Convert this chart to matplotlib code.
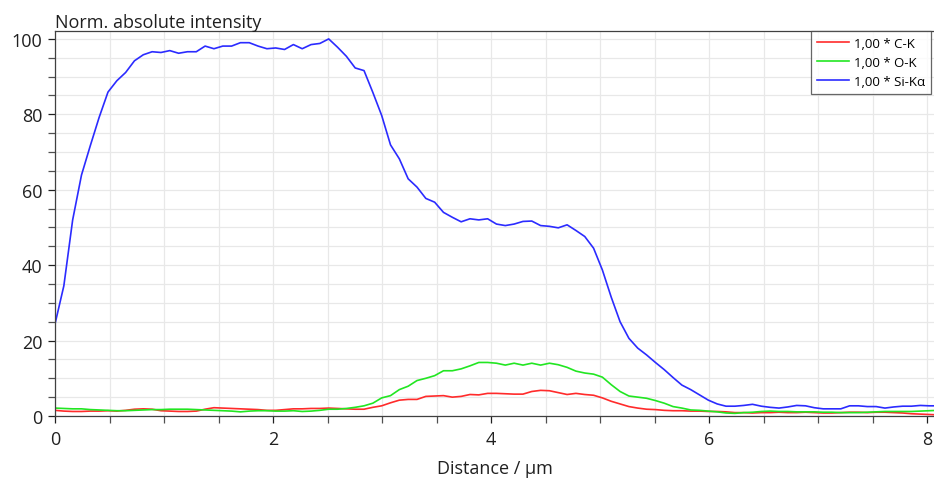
import matplotlib
matplotlib.use("Agg")
import matplotlib.pyplot as plt
from matplotlib.ticker import MultipleLocator
import numpy as np

# Line scan data (step ~0.081 um)
step = 0.081

c_k = [1.5, 1.3, 1.2, 1.2, 1.3, 1.3, 1.4, 1.3, 1.5, 1.8,
       1.9, 1.8, 1.4, 1.3, 1.2, 1.2, 1.3, 1.8, 2.2, 2.1,
       2.0, 1.9, 1.8, 1.7, 1.5, 1.5, 1.7, 1.9, 1.9, 2.0,
       2.0, 2.1, 2.0, 1.9, 1.8, 1.8, 2.3, 2.7, 3.5, 4.2,
       4.4, 4.4, 5.2, 5.3, 5.4, 5.0, 5.2, 5.7, 5.6, 6.0,
       6.0, 5.9, 5.8, 5.8, 6.5, 6.8, 6.7, 6.2, 5.7, 6.0,
       5.7, 5.5, 4.8, 3.9, 3.2, 2.5, 2.1, 1.8, 1.7, 1.5,
       1.4, 1.4, 1.3, 1.3, 1.2, 1.2, 1.1, 0.9, 0.9, 0.8,
       0.9, 0.9, 1.0, 0.9, 0.9, 1.0, 0.9, 0.8, 0.8, 0.9,
       1.0, 1.0, 0.9, 1.0, 1.0, 0.9, 0.8, 0.6, 0.5, 0.4,
       0.3]

o_k = [2.1, 2.0, 1.9, 1.9, 1.7, 1.6, 1.5, 1.4, 1.4, 1.5,
       1.6, 1.7, 1.7, 1.8, 1.8, 1.8, 1.7, 1.6, 1.5, 1.4,
       1.3, 1.1, 1.3, 1.4, 1.4, 1.3, 1.3, 1.4, 1.2, 1.3,
       1.5, 1.8, 1.8, 2.0, 2.3, 2.7, 3.4, 4.8, 5.4, 7.0,
       7.9, 9.4, 10.0, 10.7, 12.0, 12.0, 12.5, 13.3, 14.2, 14.2,
       14.0, 13.5, 14.0, 13.5, 14.0, 13.5, 14.0, 13.6, 12.9, 11.9,
       11.4, 11.1, 10.3, 8.3, 6.5, 5.3, 5.0, 4.7, 4.1, 3.4,
       2.5, 2.1, 1.6, 1.5, 1.3, 1.1, 0.8, 0.7, 0.9, 1.0,
       1.2, 1.3, 1.2, 1.2, 1.1, 1.1, 1.1, 1.0, 1.0, 0.9,
       0.9, 0.9, 1.0, 1.1, 1.2, 1.2, 1.2, 1.2, 1.3, 1.4,
       1.5]

si_ka = [24.4, 34.5, 52.0, 63.9, 71.7, 79.2, 85.9, 88.9, 91.1, 94.2,
         95.8, 96.6, 96.4, 96.9, 96.2, 96.6, 96.6, 98.1, 97.4, 98.1,
         98.1, 99.0, 99.0, 98.1, 97.4, 97.6, 97.2, 98.5, 97.4, 98.5,
         98.8, 100.0, 97.8, 95.4, 92.3, 91.6, 85.8, 79.7, 71.9, 68.2,
         62.9, 60.7, 57.7, 56.7, 54.0, 52.7, 51.5, 52.3, 52.0, 52.3,
         50.9, 50.5, 50.9, 51.6, 51.7, 50.5, 50.3, 49.9, 50.7, 49.2,
         47.6, 44.5, 38.7, 31.5, 25.0, 20.6, 18.0, 16.2, 14.2, 12.3,
         10.2, 8.2, 7.0, 5.6, 4.2, 3.2, 2.6, 2.6, 2.8, 3.1,
         2.6, 2.3, 2.1, 2.4, 2.8, 2.7, 2.2, 1.9, 1.9, 1.9,
         2.7, 2.7, 2.5, 2.5, 2.1, 2.4, 2.6, 2.6, 2.8, 2.7,
         2.7]

labels = ["1,00 * C-K", "1,00 * O-K", "1,00 * Si-K\u03b1"]
colors = ["#ff2b2b", "#22e622", "#2b2bff"]

distance = np.arange(len(si_ka)) * step

plt.rcParams['font.family'] = ['Open Sans', 'DejaVu Sans']

fig = plt.figure(figsize=(9.34, 4.81), dpi=100)
ax = fig.add_axes([55 / 934, 1 - 417 / 481, 1 - 55 / 934, (417 - 32) / 481])

for series, lab, col in zip([c_k, o_k, si_ka], labels, colors):
    ax.plot(distance, series, color=col, lw=1.2, label=lab)

ax.set_xlim(0, 8.064)
ax.set_ylim(0, 102.1)

ax.xaxis.set_major_locator(MultipleLocator(2))
ax.xaxis.set_minor_locator(MultipleLocator(0.5))
ax.yaxis.set_major_locator(MultipleLocator(20))
ax.yaxis.set_minor_locator(MultipleLocator(5))
ax.grid(which='both', color='#e8e8e8', lw=0.9)
ax.set_axisbelow(True)
ax.tick_params(which='both', direction='out', length=5, color='#505050', width=0.9)
ax.tick_params(axis='both', labelsize=13, colors='#202020')
ax.tick_params(axis='x', pad=5)
ax.tick_params(axis='y', pad=4)

for s in ax.spines.values():
    s.set_color('#404040')
    s.set_linewidth(0.9)
ax.spines['right'].set_visible(False)

ax.set_xlabel('Distance / \u00b5m', fontsize=13, color='#202020', labelpad=8)
ax.set_title('Norm. absolute intensity', loc='left', fontsize=13,
             color='#202020', pad=3, x=0.0)

leg = ax.legend(loc='upper right', bbox_to_anchor=(0.9966, 1.0), borderaxespad=0,
                fontsize=9.5, frameon=True, fancybox=False, handlelength=2.4,
                handletextpad=0.4, borderpad=0.45, labelspacing=0.45)
leg.get_frame().set_edgecolor('#404040')
leg.get_frame().set_linewidth(0.9)

fig.savefig('out.png', dpi=100)
